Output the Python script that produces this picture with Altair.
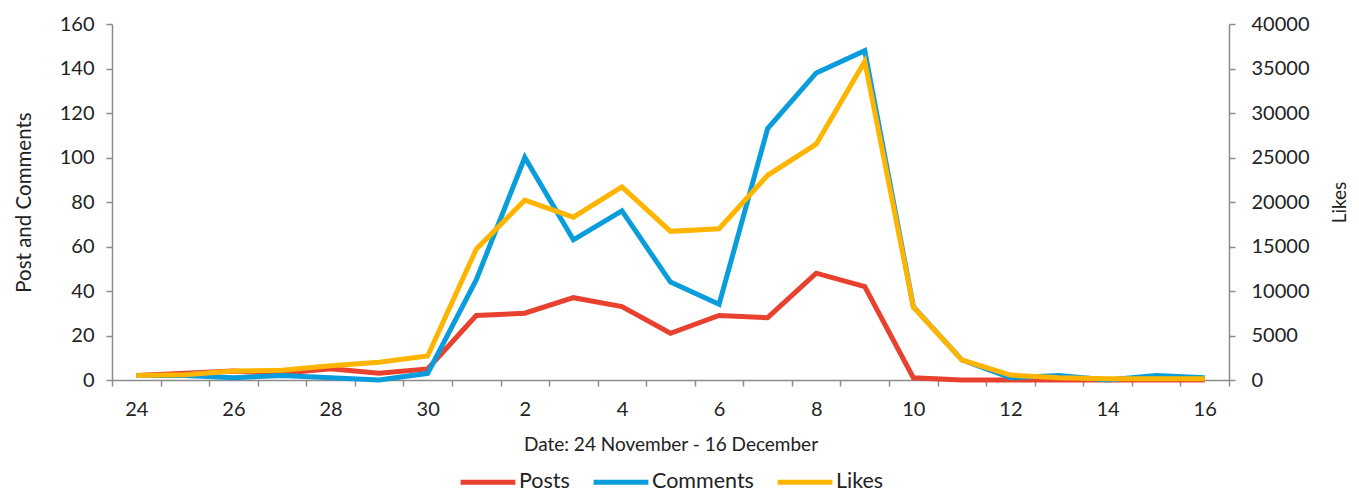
import altair as alt
import pandas as pd

days = ["24", "25", "26", "27", "28", "29", "30",
        "1", "2", "3", "4", "5", "6", "7", "8", "9", "10", "11", "12", "13", "14", "15", "16"]
label_days = ["24", "26", "28", "30", "2", "4", "6", "8", "10", "12", "14", "16"]
posts = [2, 3, 4, 3, 5, 3, 5,
         29, 30, 37, 33, 21, 29, 28, 48, 42, 1, 0, 0, 0, 0, 0, 0]
comments = [2, 2, 1, 2, 1, 0, 3,
            45, 100, 63, 76, 44, 34, 113, 138, 148, 33, 9, 1, 2, 0, 2, 1]
likes = [500, 600, 1000, 1100, 1600, 2000, 2700,
         14700, 20200, 18300, 21700, 16700, 17000, 23000, 26500, 35800, 8200, 2250, 550, 250, 150, 150, 150]

series_names = ["Posts", "Comments", "Likes"]
series_colors = ["#E8412F", "#0A9DDB", "#FFB500"]

df = pd.DataFrame({"day": days, "Posts": posts, "Comments": comments, "Likes": likes})

FONT = "Lato"
TXT = "#222222"
AX = "#8c8c8c"

label_list = "[" + ",".join("'" + d + "'" for d in label_days) + "]"

x_enc = alt.X(
    "day:N",
    sort=days,
    scale=alt.Scale(type="band", paddingInner=0, paddingOuter=0),
    axis=alt.Axis(
        title="Date: 24 November - 16 December",
        labelAngle=0,
        tickBand="extent",
        labelExpr=f"indexof({label_list}, datum.value) >= 0 ? datum.value : ''",
        labelFontSize=20,
        labelPadding=13,
        titleFontSize=19,
        titlePadding=16,
        titleFontWeight="normal",
        tickSize=6,
    ),
)

color_enc = alt.Color(
    "series:N",
    scale=alt.Scale(domain=series_names, range=series_colors),
    legend=alt.Legend(
        title=None,
        orient="none",
        direction="horizontal",
        legendX=346,
        legendY=428,
        symbolType="stroke",
        symbolSize=3000,
        symbolStrokeWidth=5,
        labelFontSize=21.5,
        labelOffset=1,
        columnPadding=13,
        labelColor=TXT,
        labelFont=FONT,
    ),
)

base = alt.Chart(df)

left = base.transform_fold(["Posts", "Comments"], as_=["series", "value"]).mark_line(
    strokeWidth=5
).encode(
    x=x_enc,
    y=alt.Y(
        "value:Q",
        scale=alt.Scale(domain=[0, 160], nice=False),
        axis=alt.Axis(
            title="Post and Comments",
            values=[0, 20, 40, 60, 80, 100, 120, 140, 160],
            grid=False,
            labelFontSize=20,
            labelPadding=12,
            titleFontSize=20.5,
            titleFontWeight="normal",
            titlePadding=25,
            tickSize=6,
        ),
    ),
    color=color_enc,
)

right = base.transform_calculate(series="'Likes'").mark_line(strokeWidth=5).encode(
    x=x_enc,
    y=alt.Y(
        "Likes:Q",
        scale=alt.Scale(domain=[0, 40000], nice=False),
        axis=alt.Axis(
            title="Likes",
            orient="right",
            values=[0, 5000, 10000, 15000, 20000, 25000, 30000, 35000, 40000],
            format="d",
            grid=False,
            labelFontSize=20,
            labelPadding=16,
            titleFontSize=19,
            titleFontWeight="normal",
            titleAngle=270,
            titlePadding=40,
            tickSize=6,
        ),
    ),
    color=alt.Color("series:N", scale=alt.Scale(domain=series_names, range=series_colors)),
)

chart = alt.layer(left, right).resolve_scale(y="independent").properties(
    width=1117,
    height=356,
    autosize=alt.AutoSizeParams(type="none"),
    padding={"left": 104, "top": 16, "right": 122, "bottom": 114},
).configure_view(stroke=None).configure_axis(
    domainColor=AX,
    tickColor=AX,
    domainWidth=1.5,
    tickWidth=1.5,
    labelColor=TXT,
    titleColor=TXT,
    labelFont=FONT,
    titleFont=FONT,
).configure_legend(labelFont=FONT)

chart.save("out.html", embed_options={"renderer": "svg", "actions": False})
